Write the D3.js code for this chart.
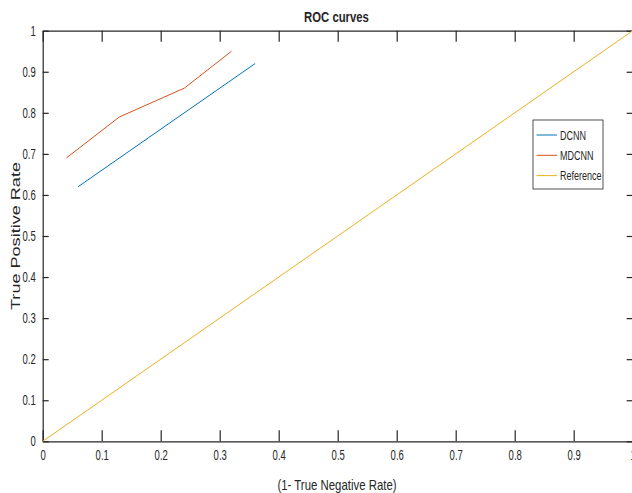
<!DOCTYPE html>
<html>
<head>
<meta charset="utf-8">
<script src="https://cdn.jsdelivr.net/npm/d3@7"></script>
<style>
  body { margin: 0; background: #fff; }
  text { font-family: "Liberation Sans", Arial, sans-serif; fill: #262626; }
</style>
</head>
<body>
<div id="chart"></div>
<script>
const seriesNames = ['DCNN', 'MDCNN', 'Reference']
const seriesColors = ['#0072BD', '#D95319', '#EDB120']
const dcnnX = [0.06, 0.36]
const dcnnY = [0.62, 0.92]
const mdcnnX = [0.04, 0.13, 0.24, 0.32]
const mdcnnY = [0.69, 0.79, 0.86, 0.95]
const refX = [0, 1]
const refY = [0, 1]
const ticks = [0, 0.1, 0.2, 0.3, 0.4, 0.5, 0.6, 0.7, 0.8, 0.9, 1]

const W = 632, H = 493
const margin = {top: 30.7, right: -0.7, bottom: 51.7, left: 42.7}
const width = W - margin.left - margin.right
const height = H - margin.top - margin.bottom

// squeeze text horizontally, the reference font is a narrow one
const narrow = (sel, k) => sel.each(function () {
  const w = this.getComputedTextLength()
  d3.select(this).attr('textLength', w * k).attr('lengthAdjust', 'spacingAndGlyphs')
})

const svg = d3.select('#chart').append('svg')
  .attr('width', W)
  .attr('height', H)

const g = svg.append('g')
  .attr('transform', `translate(${margin.left},${margin.top})`)

const x = d3.scaleLinear().domain([0, 1]).range([0, width])
const y = d3.scaleLinear().domain([0, 1]).range([height, 0])

const fmt = d => d === 0 || d === 1 ? String(d) : d3.format('.1f')(d)

// bottom axis with labels
const xAxis = g.append('g')
  .attr('transform', `translate(0,${height})`)
  .call(d3.axisBottom(x).tickValues(ticks).tickFormat(fmt).tickSizeInner(-11).tickSizeOuter(0).tickPadding(8))
// left axis with labels
const yAxis = g.append('g')
  .call(d3.axisLeft(y).tickValues(ticks).tickFormat(fmt).tickSizeInner(-6).tickSizeOuter(0).tickPadding(7))
// top and right box edges
g.append('g')
  .call(d3.axisTop(x).tickValues(ticks).tickFormat('').tickSizeInner(-11).tickSizeOuter(0))
g.append('g')
  .attr('transform', `translate(${width},0)`)
  .call(d3.axisRight(y).tickValues(ticks).tickFormat('').tickSizeInner(-6).tickSizeOuter(0))

g.selectAll('.domain, .tick line').attr('stroke', '#262626').attr('stroke-width', 1.2)
xAxis.selectAll('text').attr('font-size', 14).attr('dy', '0.8em').attr('font-family', null)
yAxis.selectAll('text').attr('font-size', 14).attr('font-family', null)
narrow(xAxis.selectAll('text'), 0.68)
narrow(yAxis.selectAll('text'), 0.68)

// lines
const line = d3.line().x(d => x(d[0])).y(d => y(d[1]))
const series = [
  d3.zip(dcnnX, dcnnY),
  d3.zip(mdcnnX, mdcnnY),
  d3.zip(refX, refY)
]
series.forEach((s, i) => {
  g.append('path')
    .datum(s)
    .attr('fill', 'none')
    .attr('stroke', seriesColors[i])
    .attr('stroke-width', 1)
    .attr('d', line)
})

// title
svg.append('text')
  .attr('x', 336.5)
  .attr('y', 22)
  .attr('text-anchor', 'middle')
  .attr('font-size', 14.5)
  .attr('font-weight', 'bold')
  .text('ROC curves')
  .call(narrow, 0.78)

// axis labels
svg.append('text')
  .attr('x', 337)
  .attr('y', 490)
  .attr('text-anchor', 'middle')
  .attr('font-size', 15)
  .text('(1- True Negative Rate)')
  .call(narrow, 0.76)

svg.append('text')
  .attr('transform', `translate(20,${margin.top + height / 2}) rotate(-90)`)
  .attr('text-anchor', 'middle')
  .attr('font-family', '"DejaVu Sans", Verdana, sans-serif')
  .attr('font-size', 13)
  .attr('textLength', 148)
  .attr('lengthAdjust', 'spacingAndGlyphs')
  .text('True Positive Rate')

// legend
const legend = svg.append('g').attr('transform', 'translate(533,120)')
legend.append('rect')
  .attr('width', 70)
  .attr('height', 69)
  .attr('fill', '#fff')
  .attr('stroke', '#262626')
  .attr('stroke-width', 0.8)
seriesNames.forEach((name, i) => {
  const ly = 15 + i * 20.3
  legend.append('line')
    .attr('x1', 3.5).attr('x2', 24)
    .attr('y1', ly).attr('y2', ly)
    .attr('stroke', seriesColors[i])
    .attr('stroke-width', 1)
  legend.append('text')
    .attr('x', 27)
    .attr('y', ly + 4.5)
    .attr('font-size', 12.5)
    .text(name)
    .call(narrow, 0.72)
})
</script>
</body>
</html>
